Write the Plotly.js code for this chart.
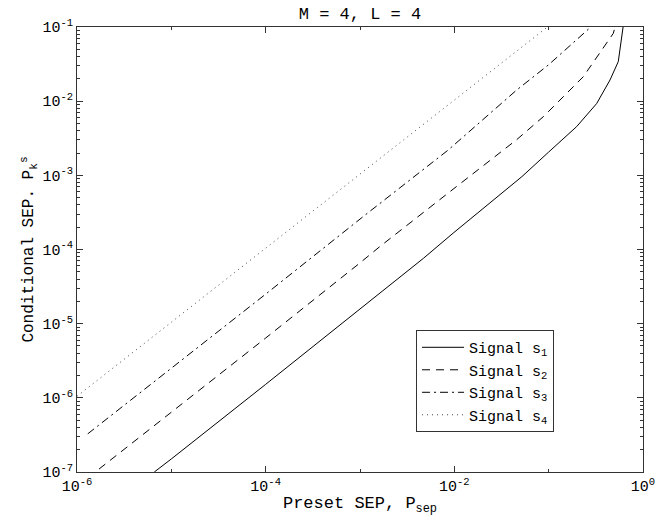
<!DOCTYPE html>
<html>
<head>
<meta charset="utf-8">
<script src="https://cdn.plot.ly/plotly-3.0.1.min.js"></script>
<style>html,body{margin:0;padding:0;background:#fff;}#chart{width:668px;height:521px;}</style>
</head>
<body>
<div id="chart"></div>
<script>
// ---- data ----
var seriesNames = ['Signal s<sub>1</sub>', 'Signal s<sub>2</sub>', 'Signal s<sub>3</sub>', 'Signal s<sub>4</sub>'];

var x1 = [6.6e-6, 1e-5, 1e-4, 1e-3, 4.7e-3, 9.7e-3, 2.5e-2, 5.2e-2, 1.0e-1, 1.98e-1, 3.23e-1, 4.47e-1, 5.47e-1, 5.8e-1, 6.15e-1];
var y1 = [1e-7, 1.5e-7, 1.52e-6, 1.55e-5, 7.6e-5, 1.66e-4, 4.5e-4, 9.6e-4, 2.06e-3, 4.54e-3, 9.3e-3, 1.93e-2, 3.41e-2, 5.7e-2, 1e-1];

var x2 = [1e-6, 1e-5, 1e-4, 1e-3, 1.63e-3, 1.057e-2, 4.57e-2, 8.77e-2, 2.33e-1, 4.85e-1, 5.05e-1];
var y2 = [6.4e-8, 6.4e-7, 6.4e-6, 6.6e-5, 1.1e-4, 7.08e-4, 3.02e-3, 6.17e-3, 2.14e-2, 8.22e-2, 1e-1];

var x3 = [1.3e-6, 1e-5, 1e-4, 1e-3, 1.08e-3, 8.63e-3, 4.57e-2, 1.0e-1, 2.74e-1, 2.8e-1];
var y3 = [3.27e-7, 2.5e-6, 2.5e-5, 2.57e-4, 2.78e-4, 2.2e-3, 1.41e-2, 3.1e-2, 9.55e-2, 1e-1];

var x4 = [1e-6, 1e-5, 1e-4, 1e-3, 1e-2, 9.7e-2];
var y4 = [1.05e-6, 1.05e-5, 1.05e-4, 1.04e-3, 1.03e-2, 1e-1];

var xTickVals = [1e-6, 1e-4, 1e-2, 1];
var xTickText = ['10<sup>-6</sup>', '10<sup>-4</sup>', '10<sup>-2</sup>', '10<sup>0</sup>'];
var xMinorVals = [1e-5, 1e-3, 1e-1];
var yTickVals = [1e-7, 1e-6, 1e-5, 1e-4, 1e-3, 1e-2, 1e-1];
var yTickText = ['10<sup>-7</sup>', '10<sup>-6</sup>', '10<sup>-5</sup>', '10<sup>-4</sup>', '10<sup>-3</sup>', '10<sup>-2</sup>', '10<sup>-1</sup>'];

// minor y ticks 2..9 in each decade
var yMinorVals = [];
for (var d = 0; d < yTickVals.length - 1; d++) {
  for (var m = 2; m <= 9; m++) yMinorVals.push(m * yTickVals[d]);
}

var FONT = 'Liberation Mono, Courier New, monospace';

var traces = [
  {x: x1, y: y1, name: seriesNames[0], mode: 'lines', line: {color: '#000', width: 1, dash: 'solid'}},
  {x: x2, y: y2, name: seriesNames[1], mode: 'lines', line: {color: '#000', width: 1, dash: '8px,6px'}},
  {x: x3, y: y3, name: seriesNames[2], mode: 'lines', line: {color: '#000', width: 1, dash: '8px,4px,2px,4px'}},
  {x: x4, y: y4, name: seriesNames[3], mode: 'lines', line: {color: '#444', width: 1, dash: '1px,4px'}}
];

var axisCommon = {
  type: 'log',
  showgrid: false,
  zeroline: false,
  showline: true,
  linecolor: '#333',
  linewidth: 1,
  mirror: 'ticks',
  ticks: 'inside',
  ticklen: 6,
  tickcolor: '#333',
  tickmode: 'array',
  tickfont: {family: FONT, size: 15, color: '#000'}
};

var layout = {
  width: 668,
  height: 521,
  autosize: false,
  margin: {l: 77, r: 25, t: 27, b: 49},
  paper_bgcolor: '#fff',
  plot_bgcolor: '#fff',
  font: {family: FONT, size: 16, color: '#000'},
  showlegend: true,
  title: {text: 'M = 4, L = 4', font: {family: FONT, size: 17, color: '#000'}, x: 0.5, xref: 'paper', y: 0.975, yref: 'container', yanchor: 'middle'},
  xaxis: Object.assign({}, axisCommon, {
    range: [-6, 0],
    tickvals: xTickVals,
    ticktext: xTickText,
    minor: {tickmode: 'array', tickvals: xMinorVals, ticks: 'inside', ticklen: 3, tickcolor: '#333', showgrid: false},
    title: {text: 'Preset SEP, P<sub>sep</sub>', font: {family: FONT, size: 17, color: '#000'}, standoff: 1}
  }),
  yaxis: Object.assign({}, axisCommon, {
    range: [-7, -1],
    tickvals: yTickVals,
    ticktext: yTickText,
    minor: {tickmode: 'array', tickvals: yMinorVals, ticks: 'inside', ticklen: 3, tickcolor: '#333', showgrid: false},
    title: {text: 'Conditional SEP. P<sub>k</sub><sup>s</sup>', font: {family: FONT, size: 16, color: '#000'}, standoff: 4}
  }),
  legend: {
    x: 0.599, y: 0.319, xanchor: 'left', yanchor: 'top',
    bgcolor: '#fff', bordercolor: '#333', borderwidth: 1,
    font: {family: FONT, size: 15, color: '#000'},
    itemwidth: 42,
    entrywidth: 143,
    tracegroupgap: 0
  }
};

Plotly.newPlot('chart', traces, layout, {displayModeBar: false, staticPlot: true});
</script>
</body>
</html>
